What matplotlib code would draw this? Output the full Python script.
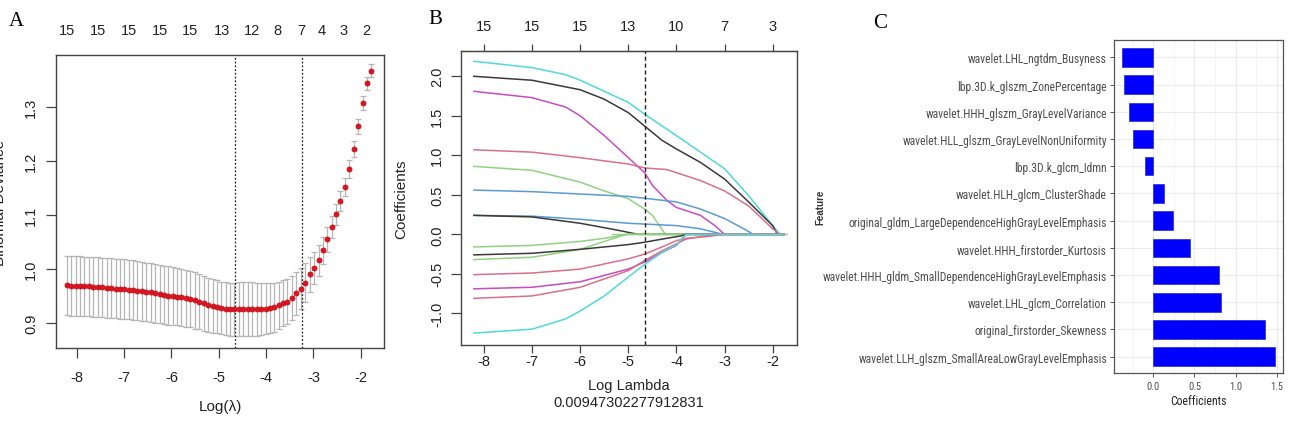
import numpy as np
import matplotlib; matplotlib.use("Agg")
import matplotlib.pyplot as plt

# ---- panel A: cv deviance vs log(lambda)
log_lam = [-8.21, -8.12, -8.02, -7.93, -7.84, -7.74, -7.65, -7.56, -7.46, -7.37,
           -7.28, -7.18, -7.09, -7.00, -6.90, -6.81, -6.72, -6.62, -6.53, -6.44,
           -6.35, -6.25, -6.16, -6.07, -5.97, -5.88, -5.79, -5.69, -5.60, -5.51,
           -5.41, -5.32, -5.23, -5.13, -5.04, -4.95, -4.85, -4.76, -4.67, -4.57,
           -4.48, -4.39, -4.29, -4.20, -4.11, -4.01, -3.92, -3.83, -3.73, -3.64,
           -3.55, -3.45, -3.36, -3.27, -3.17, -3.08, -2.99, -2.89, -2.80, -2.71,
           -2.61, -2.52, -2.43, -2.33, -2.24, -2.15, -2.05, -1.96, -1.87, -1.78]
cv_mean = [0.970, 0.969, 0.969, 0.969, 0.968, 0.968, 0.967, 0.967, 0.966, 0.965,
           0.965, 0.964, 0.963, 0.963, 0.962, 0.961, 0.960, 0.959, 0.958, 0.957,
           0.955, 0.954, 0.952, 0.951, 0.950, 0.949, 0.948, 0.946, 0.944, 0.942,
           0.940, 0.937, 0.934, 0.932, 0.930, 0.928, 0.927, 0.926, 0.926, 0.926,
           0.926, 0.926, 0.926, 0.926, 0.926, 0.927, 0.928, 0.929, 0.933, 0.937,
           0.940, 0.947, 0.955, 0.964, 0.975, 0.990, 1.002, 1.016, 1.035, 1.055,
           1.078, 1.101, 1.126, 1.152, 1.185, 1.222, 1.264, 1.308, 1.344, 1.367]
cv_se = [0.055, 0.055, 0.055, 0.055, 0.055, 0.055, 0.055, 0.055, 0.055, 0.055,
         0.055, 0.055, 0.055, 0.055, 0.055, 0.055, 0.055, 0.055, 0.054, 0.054,
         0.054, 0.054, 0.054, 0.054, 0.054, 0.053, 0.053, 0.053, 0.052, 0.052,
         0.051, 0.051, 0.050, 0.050, 0.049, 0.049, 0.049, 0.049, 0.049, 0.050,
         0.050, 0.050, 0.050, 0.049, 0.048, 0.047, 0.046, 0.045, 0.044, 0.043,
         0.042, 0.041, 0.040, 0.038, 0.036, 0.033, 0.030, 0.028, 0.025, 0.023,
         0.021, 0.019, 0.018, 0.017, 0.016, 0.015, 0.014, 0.013, 0.012, 0.012]
lam_min, lam_1se = -4.66, -3.25
top_at_A = [-8.20, -7.55, -6.89, -6.25, -5.60, -4.94, -4.29, -3.76, -3.26, -2.82, -2.36, -1.89]
top_lab_A = ["15", "15", "15", "15", "15", "13", "12", "8", "7", "4", "3", "2"]

# ---- panel B: coefficient paths (read at sample log-lambda points)
paths = [
    ("#4fd9d9", [-8.21, -7, -6.3, -6, -5, -4.66, -4, -3.5, -3, -2.5, -2, -1.85, -1.76],
                [2.19, 2.11, 2.02, 1.95, 1.67, 1.52, 1.25, 1.04, 0.83, 0.49, 0.11, 0, 0]),
    ("#3a3a3a", [-8.21, -7, -6, -5.5, -5, -4.66, -4.3, -4, -3.5, -3, -2.5, -2, -1.9, -1.76],
                [2.00, 1.95, 1.83, 1.71, 1.54, 1.37, 1.19, 1.08, 0.91, 0.70, 0.41, 0.11, 0, 0]),
    ("#c74cc4", [-8.21, -7, -6.3, -6, -5.5, -5, -4.66, -4.5, -4.2, -4, -3.5, -3.2, -3.0, -1.76],
                [1.81, 1.73, 1.61, 1.50, 1.25, 0.97, 0.78, 0.62, 0.43, 0.34, 0.24, 0.11, 0, 0]),
    ("#d9708a", [-8.21, -7, -6, -5, -4.66, -4.2, -4, -3.5, -3, -2.5, -2, -1.85, -1.76],
                [1.07, 1.04, 0.97, 0.89, 0.84, 0.82, 0.78, 0.68, 0.55, 0.36, 0.07, 0, 0]),
    ("#8fd27f", [-8.21, -7, -6, -5.5, -5, -4.66, -4.5, -4.23, -1.76],
                [0.86, 0.81, 0.66, 0.55, 0.45, 0.32, 0.24, 0, 0]),
    ("#5b9bd5", [-8.21, -7, -6, -5, -4, -3.5, -3, -2.6, -2.4, -1.76],
                [0.56, 0.54, 0.51, 0.48, 0.41, 0.32, 0.20, 0.07, 0, 0]),
    ("#5b9bd5", [-8.21, -7, -6, -5, -4, -3.5, -3.1, -2.95, -1.76],
                [0.24, 0.23, 0.19, 0.14, 0.11, 0.07, 0.01, 0, 0]),
    ("#3a3a3a", [-8.21, -7, -6, -5.2, -4.8, -1.76],
                [0.24, 0.22, 0.14, 0.05, 0, 0]),
    ("#8fd27f", [-8.21, -7, -6, -5.5, -5.0, -1.76],
                [-0.16, -0.14, -0.09, -0.05, 0, 0]),
    ("#8fd27f", [-8.21, -7, -6, -5.5, -5.05, -1.76],
                [-0.32, -0.29, -0.19, -0.09, 0, 0]),
    ("#3a3a3a", [-8.21, -7, -6, -5, -4.66, -4.2, -3.9, -3.8, -1.76],
                [-0.26, -0.24, -0.19, -0.13, -0.10, -0.05, -0.02, 0, 0]),
    ("#d9708a", [-8.21, -7, -6, -5, -4.66, -4.3, -4, -3.8, -3.4, -3.0, -1.76],
                [-0.51, -0.49, -0.44, -0.31, -0.25, -0.16, -0.08, -0.05, -0.03, 0, 0]),
    ("#c74cc4", [-8.21, -7, -6, -5, -4.66, -4.3, -4, -3.8, -1.76],
                [-0.69, -0.67, -0.60, -0.44, -0.35, -0.23, -0.14, 0, 0]),
    ("#d9708a", [-8.21, -7, -6, -5, -4.66, -4.3, -4, -3.8, -3.2, -1.76],
                [-0.81, -0.78, -0.67, -0.46, -0.33, -0.21, -0.12, -0.06, 0, 0]),
    ("#4fd9d9", [-8.21, -7, -6.3, -6, -5.5, -5, -4.66, -4.3, -4, -3.8, -1.76],
                [-1.25, -1.20, -1.07, -0.97, -0.78, -0.54, -0.38, -0.23, -0.13, 0, 0]),
]
top_at_B = [-8, -7, -6, -5, -4, -3, -2]
top_lab_B = ["15", "15", "15", "13", "10", "7", "3"]

# ---- panel C: selected features
features = ["wavelet.LHL_ngtdm_Busyness", "lbp.3D.k_glszm_ZonePercentage",
            "wavelet.HHH_glszm_GrayLevelVariance", "wavelet.HLL_glszm_GrayLevelNonUniformity",
            "lbp.3D.k_glcm_Idmn", "wavelet.HLH_glcm_ClusterShade",
            "original_gldm_LargeDependenceHighGrayLevelEmphasis", "wavelet.HHH_firstorder_Kurtosis",
            "wavelet.HHH_gldm_SmallDependenceHighGrayLevelEmphasis", "wavelet.LHL_glcm_Correlation",
            "original_firstorder_Skewness", "wavelet.LLH_glszm_SmallAreaLowGrayLevelEmphasis"]
coefs = [-0.385, -0.355, -0.30, -0.247, -0.105, 0.134, 0.243, 0.446, 0.795, 0.826, 1.36, 1.48]

W, H = 1291, 435
plt.rcParams["font.family"] = ["Liberation Sans", "DejaVu Sans"]
plt.rcParams["axes.unicode_minus"] = False
fig = plt.figure(figsize=(W / 100, H / 100), dpi=100)
txt = "#222222"
spine = "#444444"
narrow = ["Liberation Sans Narrow", "Roboto Condensed", "Archivo Narrow", "Liberation Sans"]

def px(l, t, r, b): return [l / W, 1 - b / H, (r - l) / W, (b - t) / H]

def r_style(ax):
    for s in ax.spines.values():
        s.set_color(spine); s.set_linewidth(1.0)
    ax.tick_params(colors=spine, labelcolor=txt, labelsize=10.5, length=7, width=0.9)
    for lb in ax.get_yticklabels():
        lb.set_rotation(90); lb.set_va("center")

# A
ax = fig.add_axes(px(56, 56, 384, 349))
ax.errorbar(log_lam, cv_mean, yerr=cv_se, fmt="none", ecolor="#b5b5b5", elinewidth=0.9, capsize=2.2, capthick=0.9)
ax.plot(log_lam, cv_mean, "o", color="#e0141e", ms=3.6, mec="#c0101a", mew=0.6, zorder=3)
for v in (lam_min, lam_1se):
    ax.axvline(v, color="#222222", ls=(0, (1.5, 1.5)), lw=0.9)
ax.set_xlim(-8.44, -1.51); ax.set_ylim(0.854, 1.396)
ax.set_xticks(range(-8, -1)); ax.set_yticks([0.9, 1.0, 1.1, 1.2, 1.3])
ax.set_yticklabels(["0.9", "1.0", "1.1", "1.2", "1.3"])
ax.tick_params(axis="x", pad=9); ax.tick_params(axis="y", pad=6)
r_style(ax)
ax.set_xlabel("Log(λ)", fontsize=11, color=txt, labelpad=11)
for x, s in zip(top_at_A, top_lab_A):
    ax.text(x, 1.0 + 25 / 293, s, transform=ax.get_xaxis_transform(), ha="center", va="center",
            fontsize=10.5, color=txt)
fig.text(0.0, 0.5345, "Binomial Deviance", rotation=90, ha="center", va="center", fontsize=11, color=txt)
fig.text(16 / W, 1 - 22 / H, "A", family="Liberation Serif", fontsize=15, ha="center", va="center")

# B
bx = fig.add_axes(px(460.7, 51.7, 796.7, 345.7))
bx.axhline(0, color="#8fd27f", lw=1.0, xmin=0.45, xmax=0.97)
for c, xs, ys in paths:
    bx.plot(xs, ys, color=c, lw=1.1)
bx.axvline(lam_min, color="#222222", ls=(0, (3, 2)), lw=1.0)
bx.set_xlim(-8.484, -1.50); bx.set_ylim(-1.397, 2.324)
bx.set_xticks(range(-8, -1)); bx.set_yticks([-1.0, -0.5, 0.0, 0.5, 1.0, 1.5, 2.0])
bx.set_yticklabels(["-1.0", "-0.5", "0.0", "0.5", "1.0", "1.5", "2.0"])
r_style(bx)
bx.tick_params(axis="x", pad=1, length=6); bx.tick_params(axis="y", pad=5)
sec = bx.secondary_xaxis("top")
sec.set_xticks(top_at_B); sec.set_xticklabels(top_lab_B)
sec.tick_params(colors=spine, labelcolor=txt, labelsize=10.5, length=5, width=0.9, pad=8)
bx.set_xlabel("Log Lambda\n0.00947302277912831", fontsize=10.5, color=txt, labelpad=7, linespacing=1.25)
fig.text(401.7 / W, 0.543, "Coefficients", rotation=90, ha="center", va="center", fontsize=11, color=txt)
fig.text(435 / W, 1 - 20 / H, "B", family="Liberation Serif", fontsize=15, ha="center", va="center")

# C
cx = fig.add_axes(px(1114, 40.7, 1283, 374))
ypos = np.arange(len(features))[::-1]
cx.set_axisbelow(True)
cx.set_xticks([0, 0.5, 1.0, 1.5]); cx.set_xticks([-0.25, 0.25, 0.75, 1.25], minor=True)
cx.grid(True, which="major", color="#ebebeb", lw=0.8)
cx.grid(True, which="minor", axis="x", color="#f2f2f2", lw=0.6)
cx.barh(ypos, coefs, height=0.68, color="#0000ff", edgecolor="#1010c0", lw=0.4)
cx.set_xlim(-0.478, 1.576); cx.set_ylim(-0.6, 11.65)
cx.set_yticks(ypos); cx.set_yticklabels(features, family=narrow)
cx.set_xticklabels(["0.0", "0.5", "1.0", "1.5"], family=narrow)
for s in cx.spines.values():
    s.set_color("#555555"); s.set_linewidth(0.9)
cx.tick_params(axis="y", labelsize=8.4, labelcolor="#4d4d4d", colors="#555555", length=3, width=0.7, pad=2)
cx.tick_params(axis="x", labelsize=7.5, labelcolor="#4d4d4d", colors="#555555", length=3, width=0.7, pad=3)
cx.tick_params(axis="x", which="minor", length=0)
cx.set_xlabel("Coefficients", fontsize=8.5, color="#222222", labelpad=2, family=narrow)
fig.text(820 / W, 1 - 207 / H, "Feature", rotation=90, ha="center", va="center", fontsize=7, weight="bold", color="#333333")
fig.text(880 / W, 1 - 23 / H, "C", family="Liberation Serif", fontsize=15, ha="center", va="center")

fig.savefig("out.png", dpi=100)
